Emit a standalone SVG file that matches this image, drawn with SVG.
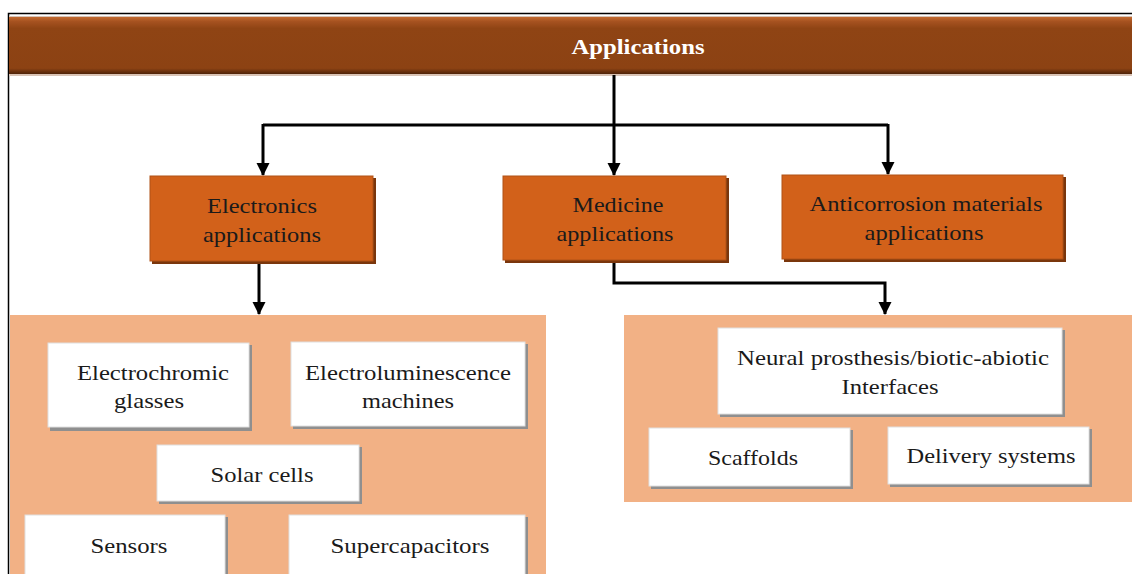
<svg xmlns="http://www.w3.org/2000/svg" width="1132" height="574" viewBox="0 0 1132 574">
<style>
text{font-family:"Liberation Serif","Tinos","DejaVu Serif","Times New Roman",serif}
.t{font-size:22px;fill:#1a1a1a;text-anchor:middle}
.h{font-size:21px;font-weight:bold;fill:#ffffff;text-anchor:middle}
.ob{fill:#d2611a;stroke:#b05217;stroke-width:1}
.wb{fill:#ffffff;stroke:#e0e0e0;stroke-width:1}
.sh{fill:#8f8f8f}
.osh{fill:#7a360c}
.panel{fill:#f2b185}
.c{fill:none;stroke:#000;stroke-width:3}
</style>
<defs>
<marker id="ar" markerWidth="14" markerHeight="14" refX="12" refY="6.5" orient="auto" markerUnits="userSpaceOnUse" viewBox="0 0 14 14">
<path d="M0,0 L13,6.5 L0,13 Z" fill="#000"/>
</marker>
<linearGradient id="hg" x1="0" y1="0" x2="0" y2="1">
<stop offset="0" stop-color="#c26a30"/>
<stop offset="0.08" stop-color="#a65220"/>
<stop offset="0.2" stop-color="#8f4414"/>
<stop offset="0.9" stop-color="#8c4213"/>
<stop offset="1" stop-color="#4f2309"/>
</linearGradient>
</defs>
<rect x="0" y="0" width="1132" height="574" fill="#ffffff"/>
<path d="M8.5,574 L8.5,13.5 L1132,13.5" fill="none" stroke="#000" stroke-width="1.5"/>
<g id="header">
<rect x="9" y="16" width="1123" height="60" fill="#d9c3b5"/>
<rect x="9" y="17" width="1123" height="57" fill="url(#hg)"/>
<text class="h" x="638" y="54" textLength="133" lengthAdjust="spacingAndGlyphs">Applications</text>
</g>
<g id="connectors">
<path class="c" d="M614,75 V125"/>
<path class="c" d="M263,125 H888"/>
<path class="c" d="M263,124 V175" marker-end="url(#ar)"/>
<path class="c" d="M614,124 V175" marker-end="url(#ar)"/>
<path class="c" d="M888,124 V174" marker-end="url(#ar)"/>
<path class="c" d="M259,262 V314" marker-end="url(#ar)"/>
<path class="c" d="M614,261 V283 H885 V314" marker-end="url(#ar)"/>
</g>
<g id="electronics">
<rect class="osh" x="152" y="178" width="224" height="86"/>
<rect class="ob" x="150" y="176" width="223" height="85"/>
<text class="t" x="262" y="213" textLength="110" lengthAdjust="spacingAndGlyphs">Electronics</text>
<text class="t" x="262" y="242" textLength="118" lengthAdjust="spacingAndGlyphs">applications</text>
</g>
<g id="medicine">
<rect class="osh" x="505" y="178" width="224" height="85"/>
<rect class="ob" x="503" y="176" width="223" height="84"/>
<text class="t" x="618" y="212" textLength="91" lengthAdjust="spacingAndGlyphs">Medicine</text>
<text class="t" x="615" y="241" textLength="117" lengthAdjust="spacingAndGlyphs">applications</text>
</g>
<g id="anticorrosion">
<rect class="osh" x="784" y="177" width="282" height="85"/>
<rect class="ob" x="782" y="175" width="281" height="84"/>
<text class="t" x="926" y="211" textLength="233" lengthAdjust="spacingAndGlyphs">Anticorrosion materials</text>
<text class="t" x="924" y="240" textLength="119" lengthAdjust="spacingAndGlyphs">applications</text>
</g>
<g id="electronics-panel">
<rect class="panel" x="10" y="315" width="536" height="259"/>
</g>
<g id="medicine-panel">
<rect class="panel" x="624" y="315" width="508" height="187"/>
</g>
<g id="electrochromic">
<rect class="sh" x="50" y="345" width="202" height="86"/>
<rect class="wb" x="48" y="343" width="201" height="84"/>
<text class="t" x="153" y="380" textLength="152" lengthAdjust="spacingAndGlyphs">Electrochromic</text>
<text class="t" x="149" y="408" textLength="70" lengthAdjust="spacingAndGlyphs">glasses</text>
</g>
<g id="electroluminescence">
<rect class="sh" x="293" y="344" width="235" height="85"/>
<rect class="wb" x="291" y="342" width="234" height="84"/>
<text class="t" x="408" y="380" textLength="206" lengthAdjust="spacingAndGlyphs">Electroluminescence</text>
<text class="t" x="408" y="408" textLength="92" lengthAdjust="spacingAndGlyphs">machines</text>
</g>
<g id="solar">
<rect class="sh" x="159" y="447" width="203" height="57"/>
<rect class="wb" x="157" y="445" width="202" height="56"/>
<text class="t" x="262" y="482" textLength="103" lengthAdjust="spacingAndGlyphs">Solar cells</text>
</g>
<g id="sensors">
<rect class="sh" x="27" y="517" width="201" height="60"/>
<rect class="wb" x="25" y="515" width="200" height="60"/>
<text class="t" x="129" y="553" textLength="77" lengthAdjust="spacingAndGlyphs">Sensors</text>
</g>
<g id="supercapacitors">
<rect class="sh" x="291" y="517" width="237" height="60"/>
<rect class="wb" x="289" y="515" width="236" height="60"/>
<text class="t" x="410" y="553" textLength="159" lengthAdjust="spacingAndGlyphs">Supercapacitors</text>
</g>
<g id="neural">
<rect class="sh" x="720" y="330" width="345" height="87"/>
<rect class="wb" x="718" y="328" width="344" height="86"/>
<text class="t" x="893" y="365" textLength="312" lengthAdjust="spacingAndGlyphs">Neural prosthesis/biotic-abiotic</text>
<text class="t" x="890" y="394" textLength="97" lengthAdjust="spacingAndGlyphs">Interfaces</text>
</g>
<g id="scaffolds">
<rect class="sh" x="651" y="430" width="202" height="59"/>
<rect class="wb" x="649" y="428" width="201" height="58"/>
<text class="t" x="753" y="465" textLength="90" lengthAdjust="spacingAndGlyphs">Scaffolds</text>
</g>
<g id="delivery">
<rect class="sh" x="890" y="429" width="202" height="58"/>
<rect class="wb" x="888" y="427" width="201" height="57"/>
<text class="t" x="991" y="463" textLength="169" lengthAdjust="spacingAndGlyphs">Delivery systems</text>
</g>
</svg>
